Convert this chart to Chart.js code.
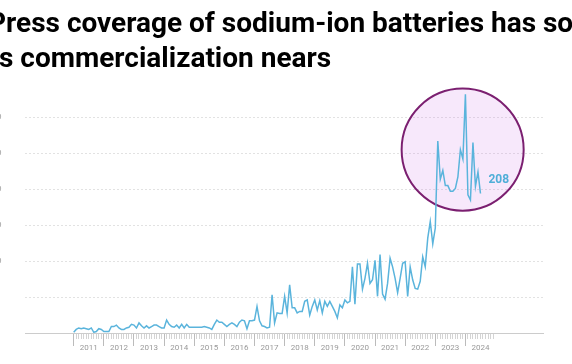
<!DOCTYPE html>
<html>
<head>
<meta charset="utf-8">
<script src="https://cdn.jsdelivr.net/npm/chart.js@4"></script>
<style>
html, body { margin: 0; padding: 0; background: #fff; overflow: hidden; width: 572px; height: 364px; }
#wrap { position: absolute; left: -12px; top: 0; width: 584px; height: 364px; }
</style>
</head>
<body>
<div id="wrap"><canvas id="myChart"></canvas></div>
<script>
// monthly article counts, Jan 2011 .. Jul 2024
var monthlyArticles = [
  1, 5, 7, 6, 7, 6, 5, 7, 1, 2, 6, 5,              // 2011
  2, 2, 2, 9, 9, 11, 7, 5, 5, 7, 8, 12,            // 2012
  11, 7, 14, 10, 7, 10, 7, 9, 11, 11, 9, 7,        // 2013
  7, 18, 12, 9, 8, 11, 7, 12, 7, 12, 8, 8,         // 2014
  8, 8, 8, 8, 9, 8, 7, 5, 12, 18, 15, 15,          // 2015
  12, 9, 12, 14, 12, 9, 15, 18, 17, 6, 17, 17,     // 2016
  18, 37, 17, 10, 9, 7, 8, 53, 14, 28, 27, 27,     // 2017
  51, 28, 67, 35, 35, 28, 30, 30, 44, 46, 25, 37,  // 2018
  46, 32, 45, 28, 44, 37, 44, 37, 30, 21, 39, 35,  // 2019
  46, 42, 44, 92, 40, 96, 96, 61, 76, 97, 69, 74,  // 2020
  101, 51, 109, 54, 47, 69, 104, 92, 76, 56, 76, 97, // 2021
  99, 51, 92, 74, 62, 61, 72, 106, 92, 132, 155, 124, // 2022
  146, 267, 214, 226, 205, 205, 197, 197, 201, 217, 255, 242, // 2023
  332, 192, 185, 265, 204, 224, 194                // 2024
];
var yearLabels = ['2011','2012','2013','2014','2015','2016','2017','2018','2019','2020','2021','2022','2023','2024'];
var latestLabel = '208';
var yTickValues = [0, 50, 100, 150, 200, 250, 300];
var titleLines = ['Press coverage of sodium-ion batteries has soared', 'as commercialization nears'];

// x axis in months since Jan 2011
var xMin = -19.4, xMax = 186.9, lastTickMonth = 167;
var yMax = 340;
// highlighted area (month, value, radius in months)
var ringMonth = 154.9, ringValue = 255, ringRadius = 24.3;

var points = monthlyArticles.map(function (v, i) { return { x: i, y: v }; });

// headline drawn by hand (Chart.js title squeezes long lines to the box width)
var headlinePlugin = {
  id: 'headline',
  afterDraw: function (chart) {
    var c = chart.ctx;
    c.save();
    c.fillStyle = '#000';
    c.textAlign = 'left';
    c.textBaseline = 'alphabetic';
    c.font = 'bold 28px Roboto';
    c.fillText(titleLines[0], 0, 32);
    c.fillText(titleLines[1], -4, 67);
    c.restore();
  }
};

var ringPlugin = {
  id: 'ring',
  beforeDatasetsDraw: function (chart) {
    var c = chart.ctx, xs = chart.scales.x, ys = chart.scales.y;
    var cx = xs.getPixelForValue(ringMonth);
    var cy = ys.getPixelForValue(ringValue);
    var r = xs.getPixelForValue(ringMonth + ringRadius) - cx;
    c.save();
    c.beginPath();
    c.arc(cx, cy, r, 0, Math.PI * 2);
    c.fillStyle = 'rgba(214,140,236,0.2)';
    c.fill();
    c.lineWidth = 2;
    c.strokeStyle = '#7b1f70';
    c.stroke();
    c.restore();
  },
  afterDatasetsDraw: function (chart) {
    var c = chart.ctx, xs = chart.scales.x, ys = chart.scales.y;
    var last = monthlyArticles.length - 1;
    c.save();
    c.font = 'bold 12px Roboto';
    c.fillStyle = '#4faed8';
    c.textAlign = 'left';
    c.textBaseline = 'alphabetic';
    c.fillText(latestLabel, xs.getPixelForValue(last) + 8, ys.getPixelForValue(Number(latestLabel)));
    c.restore();
  }
};

var ctx = document.getElementById('myChart').getContext('2d');
var chart = new Chart(ctx, {
  type: 'line',
  data: {
    datasets: [{
      data: points,
      borderColor: '#5ab4dc',
      borderWidth: 1.5,
      pointRadius: 0,
      tension: 0,
      fill: false
    }]
  },
  options: {
    responsive: true,
    maintainAspectRatio: false,
    animation: false,
    layout: { padding: { left: 0, right: 29, top: 88.5, bottom: 11 } },
    plugins: {
      legend: { display: false },
      tooltip: { enabled: false },
      title: { display: false }
    },
    scales: {
      x: {
        type: 'linear',
        min: xMin,
        max: xMax,
        afterBuildTicks: function (axis) {
          var t = [];
          for (var m = 0; m <= lastTickMonth; m++) t.push({ value: m });
          axis.ticks = t;
        },
        afterFit: function (axis) { axis.height = 20; },
        grid: {
          drawOnChartArea: false,
          drawTicks: true,
          tickLength: 13,
          tickWidth: 1,
          tickColor: function (c) { return c.tick && c.tick.value % 12 === 0 ? '#bbb' : '#d4d4d4'; },
          tickBorderDash: function (c) { return c.tick && c.tick.value % 12 === 0 ? [] : [5, 40]; }
        },
        border: { display: true, color: '#ccc', width: 1 },
        ticks: {
          autoSkip: false,
          maxRotation: 0,
          padding: -3,
          color: '#999',
          font: { family: 'Roboto', size: 8 },
          callback: function (v) {
            if (v % 12 === 6) return yearLabels[(v - 6) / 12] || '';
            return '';
          }
        }
      },
      y: {
        min: 0,
        max: yMax,
        afterBuildTicks: function (axis) {
          axis.ticks = yTickValues.map(function (v) { return { value: v }; });
        },
        afterFit: function (axis) { axis.width = 37; },
        grid: {
          drawTicks: false,
          color: function (c) { return c.tick && c.tick.value === 0 ? 'rgba(0,0,0,0)' : '#e2e2e2'; },
          lineWidth: 1
        },
        border: { display: false, dash: [2, 2] },
        ticks: {
          crossAlign: 'far',
          padding: 4,
          color: '#999',
          font: { family: 'Roboto', size: 8 }
        }
      }
    }
  },
  plugins: [ringPlugin, headlinePlugin]
});
</script>
</body>
</html>
